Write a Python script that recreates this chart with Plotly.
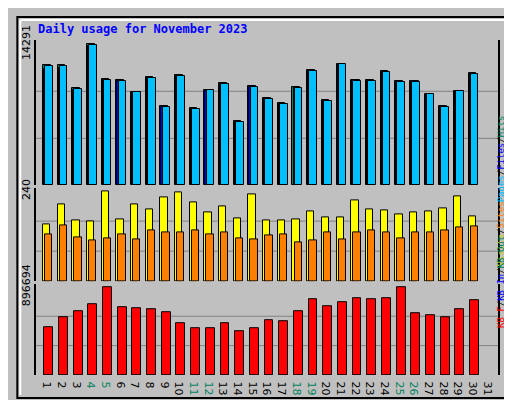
import plotly.graph_objects as go

days = list(range(1, 32))
hits = [12150,12200,9900,14291,10750,10650,9500,10950,8050,11150,7850,9700,10400,6500,10100,8850,8350,10000,11650,8650,12300,10700,10700,11550,10600,10600,9300,8050,9600,11350]
files = [11800,11900,9700,14150,10700,10600,9450,10850,7950,11050,7750,9600,10300,6400,10000,8750,8250,9900,11550,8550,12250,10650,10600,11450,10500,10550,9250,7950,9550,11300]
pages = [12050,12050,9800,14250,10700,10600,9420,10880,7960,11080,7780,9620,10300,6410,10010,8750,8260,9910,11560,8550,12240,10600,10600,11460,10500,10500,9230,7970,9530,11270]
visits = [152,204,162,160,240,165,204,191,224,237,211,183,199,168,232,163,163,165,186,171,171,215,191,189,178,183,186,194,227,173]
sites = [126,149,116,108,113,126,111,134,129,131,134,126,129,113,111,121,124,103,108,129,111,129,134,131,113,131,131,134,144,147]
kbytes = [485000,584000,653000,723000,896694,694000,684000,674000,634000,526000,477000,477000,526000,444000,477000,556000,546000,653000,772000,703000,743000,782000,772000,782000,896694,625000,605000,584000,674000,763000]
weekend = {4,5,11,12,18,19,25,26}
ticktext = [f'<span style="color:#00805c">{d}</span>' if d in weekend else str(d) for d in days]
xs = days[:30]

fig = go.Figure()
ln = dict(color="black", width=1)
def bar(y, color, off, w, ax):
    fig.add_trace(go.Bar(x=xs, y=y, offset=off, width=w, marker=dict(color=color, line=ln),
                         xaxis="x", yaxis=ax, showlegend=False))
bar(hits, "#00805c", -0.40, 0.52, "y")
bar(files, "#0000ff", -0.33, 0.52, "y")
bar(pages, "#00bfff", -0.25, 0.52, "y")
bar(visits, "#ffff00", -0.40, 0.5, "y2")
bar(sites, "#ff8000", -0.26, 0.5, "y2")
bar(kbytes, "#ff0000", -0.30, 0.6, "y3")

mh, mv, mk = max(hits), max(visits), max(kbytes)
def yax(dom, m, lab):
    return dict(domain=dom, range=[0, m*1.03], tickvals=[m], ticktext=[lab], tickangle=-90,
                showgrid=False, zeroline=False, showline=True, linecolor="black", mirror=True,
                linewidth=2, tickfont=dict(family="DejaVu Sans", size=11, color="black"), ticks="",
                anchor="x")
fig.update_layout(
    width=512, height=400, margin=dict(l=20, r=22, t=25, b=25),
    paper_bgcolor="#c0c0c0", plot_bgcolor="#c0c0c0", barmode="overlay", bargap=0,
    xaxis=dict(range=[0.13, 31.6], tickvals=days, ticktext=ticktext, showgrid=False, zeroline=False,
               anchor="y3", tickfont=dict(family="DejaVu Sans", size=11, color="black"), ticks=""),
    yaxis=yax([0.566, 1], mh, str(mh)),
    yaxis2=yax([0.28, 0.557], mv, str(mv)),
    yaxis3=yax([0, 0.271], mk, str(mk)),
    font=dict(family="DejaVu Sans Mono"),
)
shapes = []
for ref, m in (("y", mh), ("y2", mv), ("y3", mk)):
    for f in (1/3, 2/3):
        shapes.append(dict(type="line", xref="paper", yref=ref, x0=0, x1=1, y0=m*f, y1=m*f,
                           line=dict(color="#808080", width=1), layer="below"))
shapes.append(dict(type="rect", xref="paper", yref="paper", x0=-19/470, x1=491/470, y0=-24/350, y1=374/350,
                   line=dict(color="black", width=2)))
shapes.append(dict(type="line", xref="paper", yref="paper", x0=-16/470, x1=-16/470, y0=-21/350, y1=371/350,
                   line=dict(color="white", width=2)))
shapes.append(dict(type="line", xref="paper", yref="paper", x0=-16/470, x1=488/470, y0=371/350, y1=371/350,
                   line=dict(color="white", width=2)))
fig.update_layout(shapes=shapes)
fs = 9
ann = [
    dict(text="<b>Daily usage for November 2023</b>", xref="paper", yref="paper", x=0, y=1.005,
         xanchor="left", yanchor="bottom", showarrow=False, font=dict(family="DejaVu Sans Mono", size=12, color="#0000ff")),
    dict(text='<span style="color:#00bfff">Pages</span>/<span style="color:#0000ff">Files</span>/<span style="color:#00805c">Hits</span>',
         xref="paper", yref="paper", x=1.022, y=0.78, textangle=-90, showarrow=False,
         font=dict(family="DejaVu Sans Mono", size=fs, color="black")),
    dict(text='<span style="color:#cccc00">Visits</span>/<span style="color:#ff8000">Sites</span>',
         xref="paper", yref="paper", x=1.022, y=0.42, textangle=-90, showarrow=False,
         font=dict(family="DejaVu Sans Mono", size=fs, color="black")),
    dict(text='<span style="color:#ff0000">KB F</span>/<span style="color:#0000ff">KB In</span>/<span style="color:#00805c">KB Out</span>',
         xref="paper", yref="paper", x=1.022, y=0.135, textangle=-90, showarrow=False,
         font=dict(family="DejaVu Sans Mono", size=fs, color="black")),
]
fig.update_layout(annotations=ann)
fig.write_html("out.html")
